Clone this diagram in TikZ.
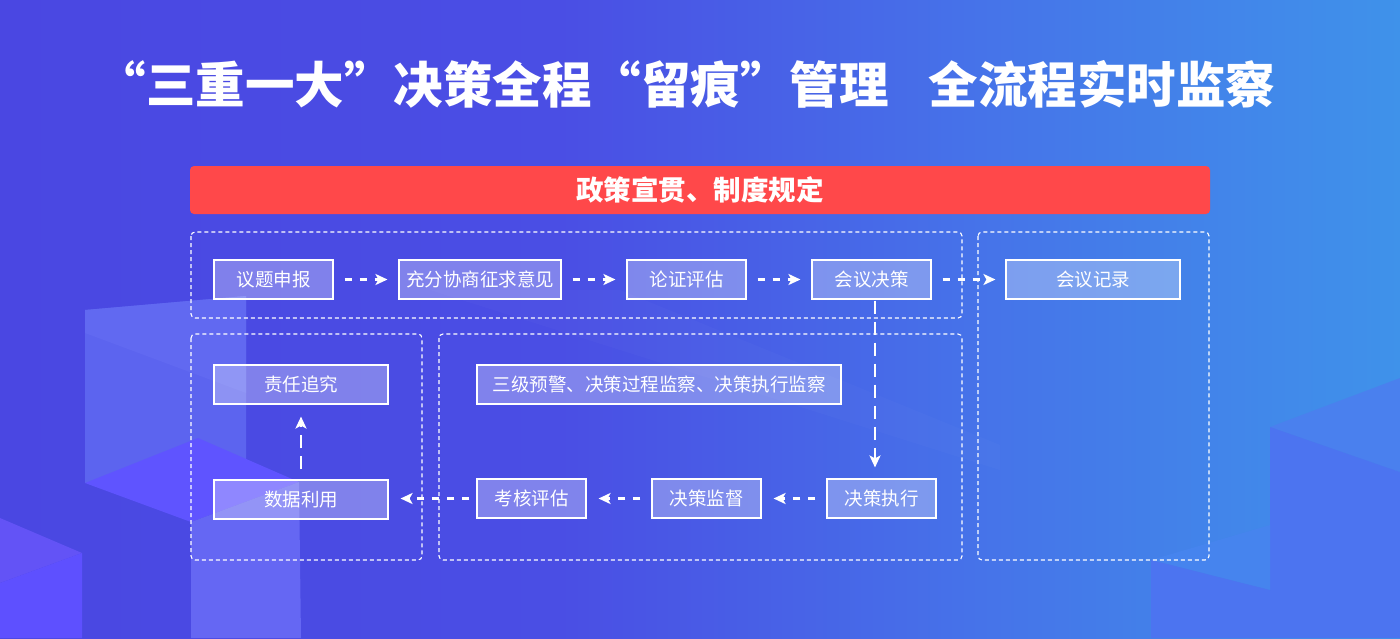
\documentclass[tikz,border=0pt]{standalone}
\usepackage{fontspec}
\setmainfont{Noto Sans CJK SC}
\usetikzlibrary{arrows.meta}
\definecolor{bgA}{RGB}{74,71,226}
\definecolor{bgB}{RGB}{74,78,228}
\definecolor{bgC}{RGB}{70,115,233}
\definecolor{bgD}{RGB}{63,146,234}
\definecolor{bannerred}{RGB}{255,72,74}
\definecolor{panelA}{RGB}{92,100,239}
\definecolor{panelB}{RGB}{97,105,241}
\definecolor{brightV}{RGB}{95,84,255}
\definecolor{faceV}{RGB}{101,103,243}
\definecolor{topT}{RGB}{99,83,246}
\definecolor{frontF}{RGB}{94,80,255}
\definecolor{rA}{RGB}{74,128,238}
\definecolor{rB}{RGB}{76,116,240}
\definecolor{rC}{RGB}{70,132,238}
\pgfdeclarehorizontalshading{bgshade}{100bp}{color(0bp)=(bgA); color(25bp)=(bgA); color(45bp)=(bgB); color(60bp)=(bgC); color(75bp)=(bgD); color(100bp)=(bgD)}
\tikzset{
  titletext/.style={text=white, font=\fontsize{49.5}{49.5}\selectfont\bfseries, inner sep=0pt},
  banner/.style={fill=bannerred, rounded corners=4pt, text=white, font=\fontsize{27.5}{27.5}\selectfont\bfseries, minimum width=1020pt, minimum height=48pt, inner sep=0pt},
  container/.style={draw=white, line width=1.1pt, dash pattern=on 4pt off 3pt, rounded corners=4pt},
  box/.style={draw=white, line width=1.1pt, fill=white, fill opacity=0.3, text opacity=1, text=white, font=\fontsize{18.5}{18.5}\selectfont, minimum height=39pt, inner sep=0pt},
  flow/.style={draw=white, line width=2.7pt, dash pattern=on 7pt off 8pt, -{Stealth[length=12pt,width=11pt,inset=3pt]}},
  vflow/.style={flow, dash pattern=on 13pt off 8pt}
}
\begin{document}
\begin{tikzpicture}[x=1pt,y=-1pt]
\useasboundingbox (0,0) rectangle (1400,638);
\shade[shading=bgshade] (0,0) rectangle (1400,638);
% decorative blocks, left
\fill[panelA] (85,310) -- (246,296) -- (246,460) -- (85,483) -- cycle;
\fill[panelB] (85,310) -- (246,296) -- (246,393) -- (85,333) -- cycle;
\fill[brightV] (85,483) -- (198,438) -- (299,482) -- (191,522) -- cycle;
\fill[faceV] (191,522) -- (299,482) -- (301,638) -- (191,638) -- cycle;
\fill[topT] (0,518) -- (82,553) -- (0,583) -- cycle;
\fill[frontF] (0,583) -- (82,553) -- (82,638) -- (0,638) -- cycle;
% decorative blocks, right
\fill[rA] (1270,427) -- (1400,378) -- (1400,472) -- cycle;
\fill[rB] (1270,427) -- (1400,472) -- (1400,638) -- (1270,638) -- cycle;
\fill[rC] (1151,560) -- (1270,525) -- (1270,590) -- cycle;
\fill[rB] (1151,560) -- (1270,590) -- (1270,638) -- (1151,638) -- cycle;
\fill[white, opacity=0.02] (430,290) -- (620,290) -- (1000,445) -- (1000,470) -- cycle;
% title and banner
\node[titletext] (title) at (686,84) {“三重一大”决策全程“留痕”管理\hspace{0.8em}全流程实时监察};
\node[banner] (banner) at (700,190) {政策宣贯、制度规定};
% containers
\draw[container] (191,232) rectangle (962,318);
\draw[container] (978,232) rectangle (1209,560);
\draw[container] (191,334) rectangle (422,560);
\draw[container] (439,334) rectangle (962,560);
% nodes
\node[box, minimum width=119pt] (n1) at (273.5,279.5) {议题申报};
\node[box, minimum width=162pt] (n2) at (480,279.5) {充分协商征求意见};
\node[box, minimum width=119pt] (n3) at (686.5,279.5) {论证评估};
\node[box, minimum width=119pt] (n4) at (871.5,279.5) {会议决策};
\node[box, minimum width=174pt] (n5) at (1093,279.5) {会议记录};
\node[box, minimum width=174pt] (n6) at (301,384.5) {责任追究};
\node[box, minimum width=364pt] (n7) at (659,384.5) {三级预警、决策过程监察、决策执行监察};
\node[box, minimum width=174pt] (n8) at (301,499.5) {数据利用};
\node[box, minimum width=109pt] (n9) at (531.5,498.5) {考核评估};
\node[box, minimum width=109pt] (n10) at (706.5,498.5) {决策监督};
\node[box, minimum width=109pt] (n11) at (881.5,498.5) {决策执行};
\coordinate (vd) at (875,0);
% connectors
\draw[flow, shorten <=11pt, shorten >=11pt] (n1) -- (n2);
\draw[flow, shorten <=11pt, shorten >=11pt] (n2) -- (n3);
\draw[flow, shorten <=11pt, shorten >=11pt] (n3) -- (n4);
\draw[flow, shorten <=11pt, shorten >=10pt] (n4) -- (n5);
\draw[vflow, shorten <=1pt, shorten >=11pt] (n4.south -| vd) -- (n11.north -| vd);
\draw[flow, shorten <=11pt, shorten >=12pt] (n11) -- (n10);
\draw[flow, shorten <=11pt, shorten >=12pt] (n10) -- (n9);
\draw[flow, shorten <=7pt, shorten >=12pt] (n9.west) -- (n8.east |- n9.west);
\draw[vflow, shorten <=10pt, shorten >=12pt] (n8) -- (n6);
\end{tikzpicture}
\end{document}
